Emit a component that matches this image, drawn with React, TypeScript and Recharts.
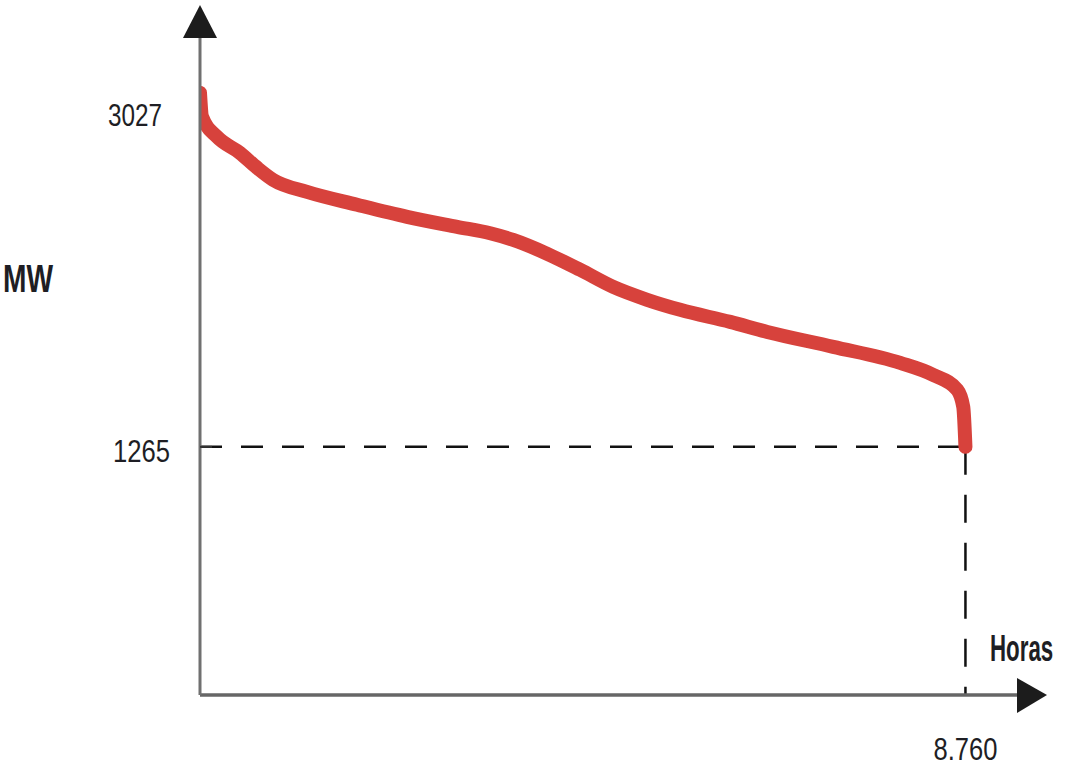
import React from "react";
import { LineChart, Line, XAxis, YAxis, ReferenceLine, ReferenceDot } from "recharts";

// Load duration curve: hours (sorted) vs MW
const hours = [0, 23, 195, 458, 653, 836, 1225, 1798, 2370, 2943, 3321, 3584, 3974, 4351, 4729, 5118, 5496, 6068, 6492, 7247, 8014, 8392, 8667, 8735, 8760];
const mw = [3027, 2908, 2808, 2728, 2654, 2594, 2534, 2470, 2410, 2360, 2328, 2295, 2226, 2146, 2061, 1997, 1947, 1887, 1837, 1763, 1683, 1623, 1549, 1464, 1265];

const yTicks = [1265, 3027];
const xTicks = [8760];
const xTickLabels: Record<number, string> = { 8760: "8.760" };
const yLabel = "MW";
const xLabel = "Horas";

const X_MAX = 9350;
const Y_MIN = 30;
const Y_MAX = 3300;

const data = hours.map((h, i) => ({ h, mw: mw[i] }));

const FONT = "'Liberation Sans', Arial, sans-serif";
const TEXT = "#1e1e24";

const YTick = (props: any) => {
  const { x, y, payload } = props;
  const v = payload.value;
  const isTop = v === 3027;
  return (
    <g>
      {!isTop && <line x1={x} y1={y} x2={x + 12} y2={y} stroke="#333" strokeWidth={2} />}
      <text
        x={isTop ? x - 38 : x - 30}
        y={isTop ? y + 33 : y + 15}
        textAnchor="end"
        fontFamily={FONT}
        fontSize={32}
        fill={TEXT}
        textLength={isTop ? 54 : 57}
        lengthAdjust="spacingAndGlyphs"
      >
        {String(v)}
      </text>
    </g>
  );
};

const XTick = (props: any) => {
  const { x, y, payload } = props;
  return (
    <text
      x={x}
      y={y + 65}
      textAnchor="middle"
      fontFamily={FONT}
      fontSize={32}
      fill={TEXT}
      textLength={64}
      lengthAdjust="spacingAndGlyphs"
    >
      {xTickLabels[payload.value] ?? String(payload.value)}
    </text>
  );
};

const YArrow = (props: any) => {
  const { cx, cy } = props;
  return (
    <g>
      <polygon points={`${cx},${cy - 33} ${cx - 17},${cy} ${cx + 17},${cy}`} fill="#1c1c1c" />
      <text
        x={cx - 197}
        y={cy + 254}
        fontFamily={FONT}
        fontWeight="bold"
        fontSize={39}
        fill={TEXT}
        textLength={50}
        lengthAdjust="spacingAndGlyphs"
      >
        {yLabel}
      </text>
    </g>
  );
};

const XArrow = (props: any) => {
  const { cx, cy } = props;
  return (
    <g>
      <polygon points={`${cx + 30},${cy} ${cx},${cy - 17} ${cx},${cy + 18}`} fill="#1c1c1c" />
      <text
        transform={`translate(${cx - 27},${cy - 34}) scale(0.62,1)`}
        x={0}
        y={0}
        fontFamily={FONT}
        fontWeight="bold"
        fontSize={36}
        fill={TEXT}
      >
        {xLabel}
      </text>
    </g>
  );
};

export default function App() {
  return (
    <div style={{ position: "absolute", left: 0, top: 0, background: "#fff" }}>
      <LineChart
        width={1068}
        height={767}
        data={data}
        margin={{ top: 38, right: 51, bottom: 32, left: 0 }}
      >
        <XAxis
          type="number"
          dataKey="h"
          domain={[0, X_MAX]}
          allowDataOverflow
          ticks={xTicks}
          tickLine={false}
          tickSize={0}
          tickMargin={0}
          height={40}
          axisLine={{ stroke: "#666", strokeWidth: 3.5 }}
          tick={<XTick />}
          interval={0}
        />
        <YAxis
          type="number"
          dataKey="mw"
          domain={[Y_MIN, Y_MAX]}
          allowDataOverflow
          ticks={yTicks}
          tickLine={false}
          tickSize={0}
          tickMargin={0}
          width={200}
          axisLine={{ stroke: "#707070", strokeWidth: 3 }}
          tick={<YTick />}
          interval={0}
        />
        <ReferenceLine
          segment={[{ x: 0, y: 1265 }, { x: 8760, y: 1265 }]}
          stroke="#111"
          strokeWidth={2.5}
          strokeDasharray="22 19"
          ifOverflow="visible"
        />
        <ReferenceLine
          segment={[{ x: 8760, y: 1265 }, { x: 8760, y: Y_MIN }]}
          stroke="#111"
          strokeWidth={2.5}
          strokeDasharray="28 20"
          ifOverflow="visible"
        />
        <Line
          type="monotoneX"
          dataKey="mw"
          stroke="#d7423c"
          strokeWidth={14}
          strokeLinecap="round"
          strokeLinejoin="round"
          dot={false}
          activeDot={false}
          isAnimationActive={false}
        />
        <ReferenceDot x={0} y={Y_MAX} ifOverflow="visible" shape={<YArrow />} />
        <ReferenceDot x={X_MAX} y={Y_MIN} ifOverflow="visible" shape={<XArrow />} />
      </LineChart>
    </div>
  );
}
